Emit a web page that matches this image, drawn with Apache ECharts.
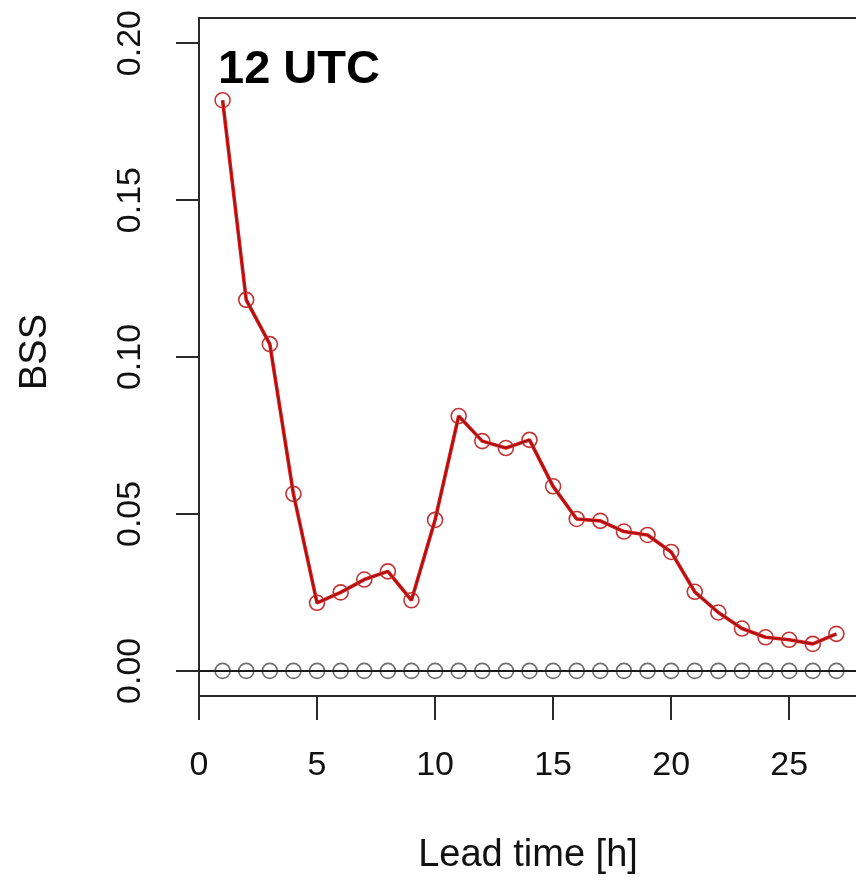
<!DOCTYPE html>
<html>
<head>
<meta charset="utf-8">
<script src="https://cdn.jsdelivr.net/npm/echarts@6/dist/echarts.min.js"></script>
<style>
  html, body { margin: 0; padding: 0; background: #fff; }
  #chart { width: 856px; height: 882px; }
</style>
</head>
<body>
<div id="chart"></div>
<script>
// Lead times (hours) and Brier skill score at each lead time
const leadTimes = [1, 2, 3, 4, 5, 6, 7, 8, 9, 10, 11, 12, 13, 14, 15, 16, 17, 18, 19, 20, 21, 22, 23, 24, 25, 26, 27];
const bss = [0.1818, 0.1182, 0.1041, 0.0564, 0.0217, 0.0250, 0.0291, 0.0317, 0.0225, 0.0481,
             0.0812, 0.0732, 0.0710, 0.0736, 0.0588, 0.0484, 0.0478, 0.0444, 0.0433, 0.0379,
             0.0252, 0.0186, 0.0135, 0.0107, 0.0099, 0.0086, 0.0118];
// Reference forecast (skill 0 by definition)
const referenceBss = [0, 0, 0, 0, 0, 0, 0, 0, 0, 0, 0, 0, 0, 0, 0, 0, 0, 0, 0, 0, 0, 0, 0, 0, 0, 0, 0];

const xTicks = [0, 5, 10, 15, 20, 25];
const yTicks = [0, 0.05, 0.10, 0.15, 0.20];

const FONT = '"Liberation Sans", Arial, Helvetica, sans-serif';
const AXIS_COLOR = '#2a2a2a';

const pairs = (xs, ys) => xs.map((x, i) => [x, ys[i]]);

const chart = echarts.init(document.getElementById('chart'), null, { renderer: 'canvas' });

chart.setOption({
  animation: false,
  backgroundColor: '#ffffff',
  grid: {
    left: 199, top: 18, width: 661, height: 678,
    outerBoundsMode: 'none', containLabel: false,
    show: true, borderColor: AXIS_COLOR, borderWidth: 2, backgroundColor: 'transparent'
  },
  xAxis: {
    type: 'value', min: 0, max: 28,
    axisLine: { show: false, onZero: false },
    splitLine: { show: false },
    axisTick: { show: true, length: 24, customValues: xTicks, lineStyle: { color: AXIS_COLOR, width: 2 } },
    axisLabel: {
      customValues: xTicks, margin: 53, color: '#111',
      fontFamily: FONT, fontSize: 34,
      formatter: v => String(v)
    }
  },
  yAxis: {
    type: 'value', min: -0.008, max: 0.208,
    axisLine: { show: false, onZero: false },
    splitLine: { show: false },
    axisTick: { show: true, length: 23, customValues: yTicks, lineStyle: { color: AXIS_COLOR, width: 2 } },
    axisLabel: {
      customValues: yTicks, margin: 51, rotate: 90, color: '#111',
      fontFamily: FONT, fontSize: 34,
      formatter: v => v.toFixed(2)
    }
  },
  series: [
    {
      name: 'reference',
      type: 'scatter',
      data: pairs(leadTimes, referenceBss),
      symbol: 'circle', symbolSize: 15,
      itemStyle: { color: 'rgba(0,0,0,0)', borderColor: '#4a4a4a', borderWidth: 1.6 },
      markLine: {
        silent: true, symbol: 'none', label: { show: false },
        lineStyle: { color: '#1a1a1a', width: 1.8, type: 'solid' },
        data: [{ yAxis: 0 }]
      },
      z: 3
    },
    {
      name: 'BSS',
      type: 'line',
      data: pairs(leadTimes, bss),
      symbol: 'circle', symbolSize: 15, showSymbol: true,
      lineStyle: { color: '#e01818', width: 3.6 },
      itemStyle: { color: 'rgba(0,0,0,0)', borderColor: '#c43434', borderWidth: 1.6 },
      z: 4
    },
    {
      name: 'BSS core',
      type: 'line',
      data: pairs(leadTimes, bss),
      showSymbol: false, symbol: 'none',
      lineStyle: { color: '#8c1010', width: 1.1 },
      z: 5
    }
  ],
  graphic: [
    {
      type: 'text', x: 218, y: 70.5,
      style: { text: '12 UTC', font: 'bold 47px ' + FONT, fill: '#000', align: 'left', verticalAlign: 'middle' }
    },
    {
      type: 'text', x: 36, y: 352, rotation: Math.PI / 2,
      style: { text: 'BSS', font: '38px ' + FONT, fill: '#111', align: 'center', verticalAlign: 'middle' }
    },
    {
      type: 'text', x: 528, y: 856,
      style: { text: 'Lead time [h]', font: '38px ' + FONT, fill: '#111', align: 'center', verticalAlign: 'middle' }
    }
  ]
});
</script>
</body>
</html>
